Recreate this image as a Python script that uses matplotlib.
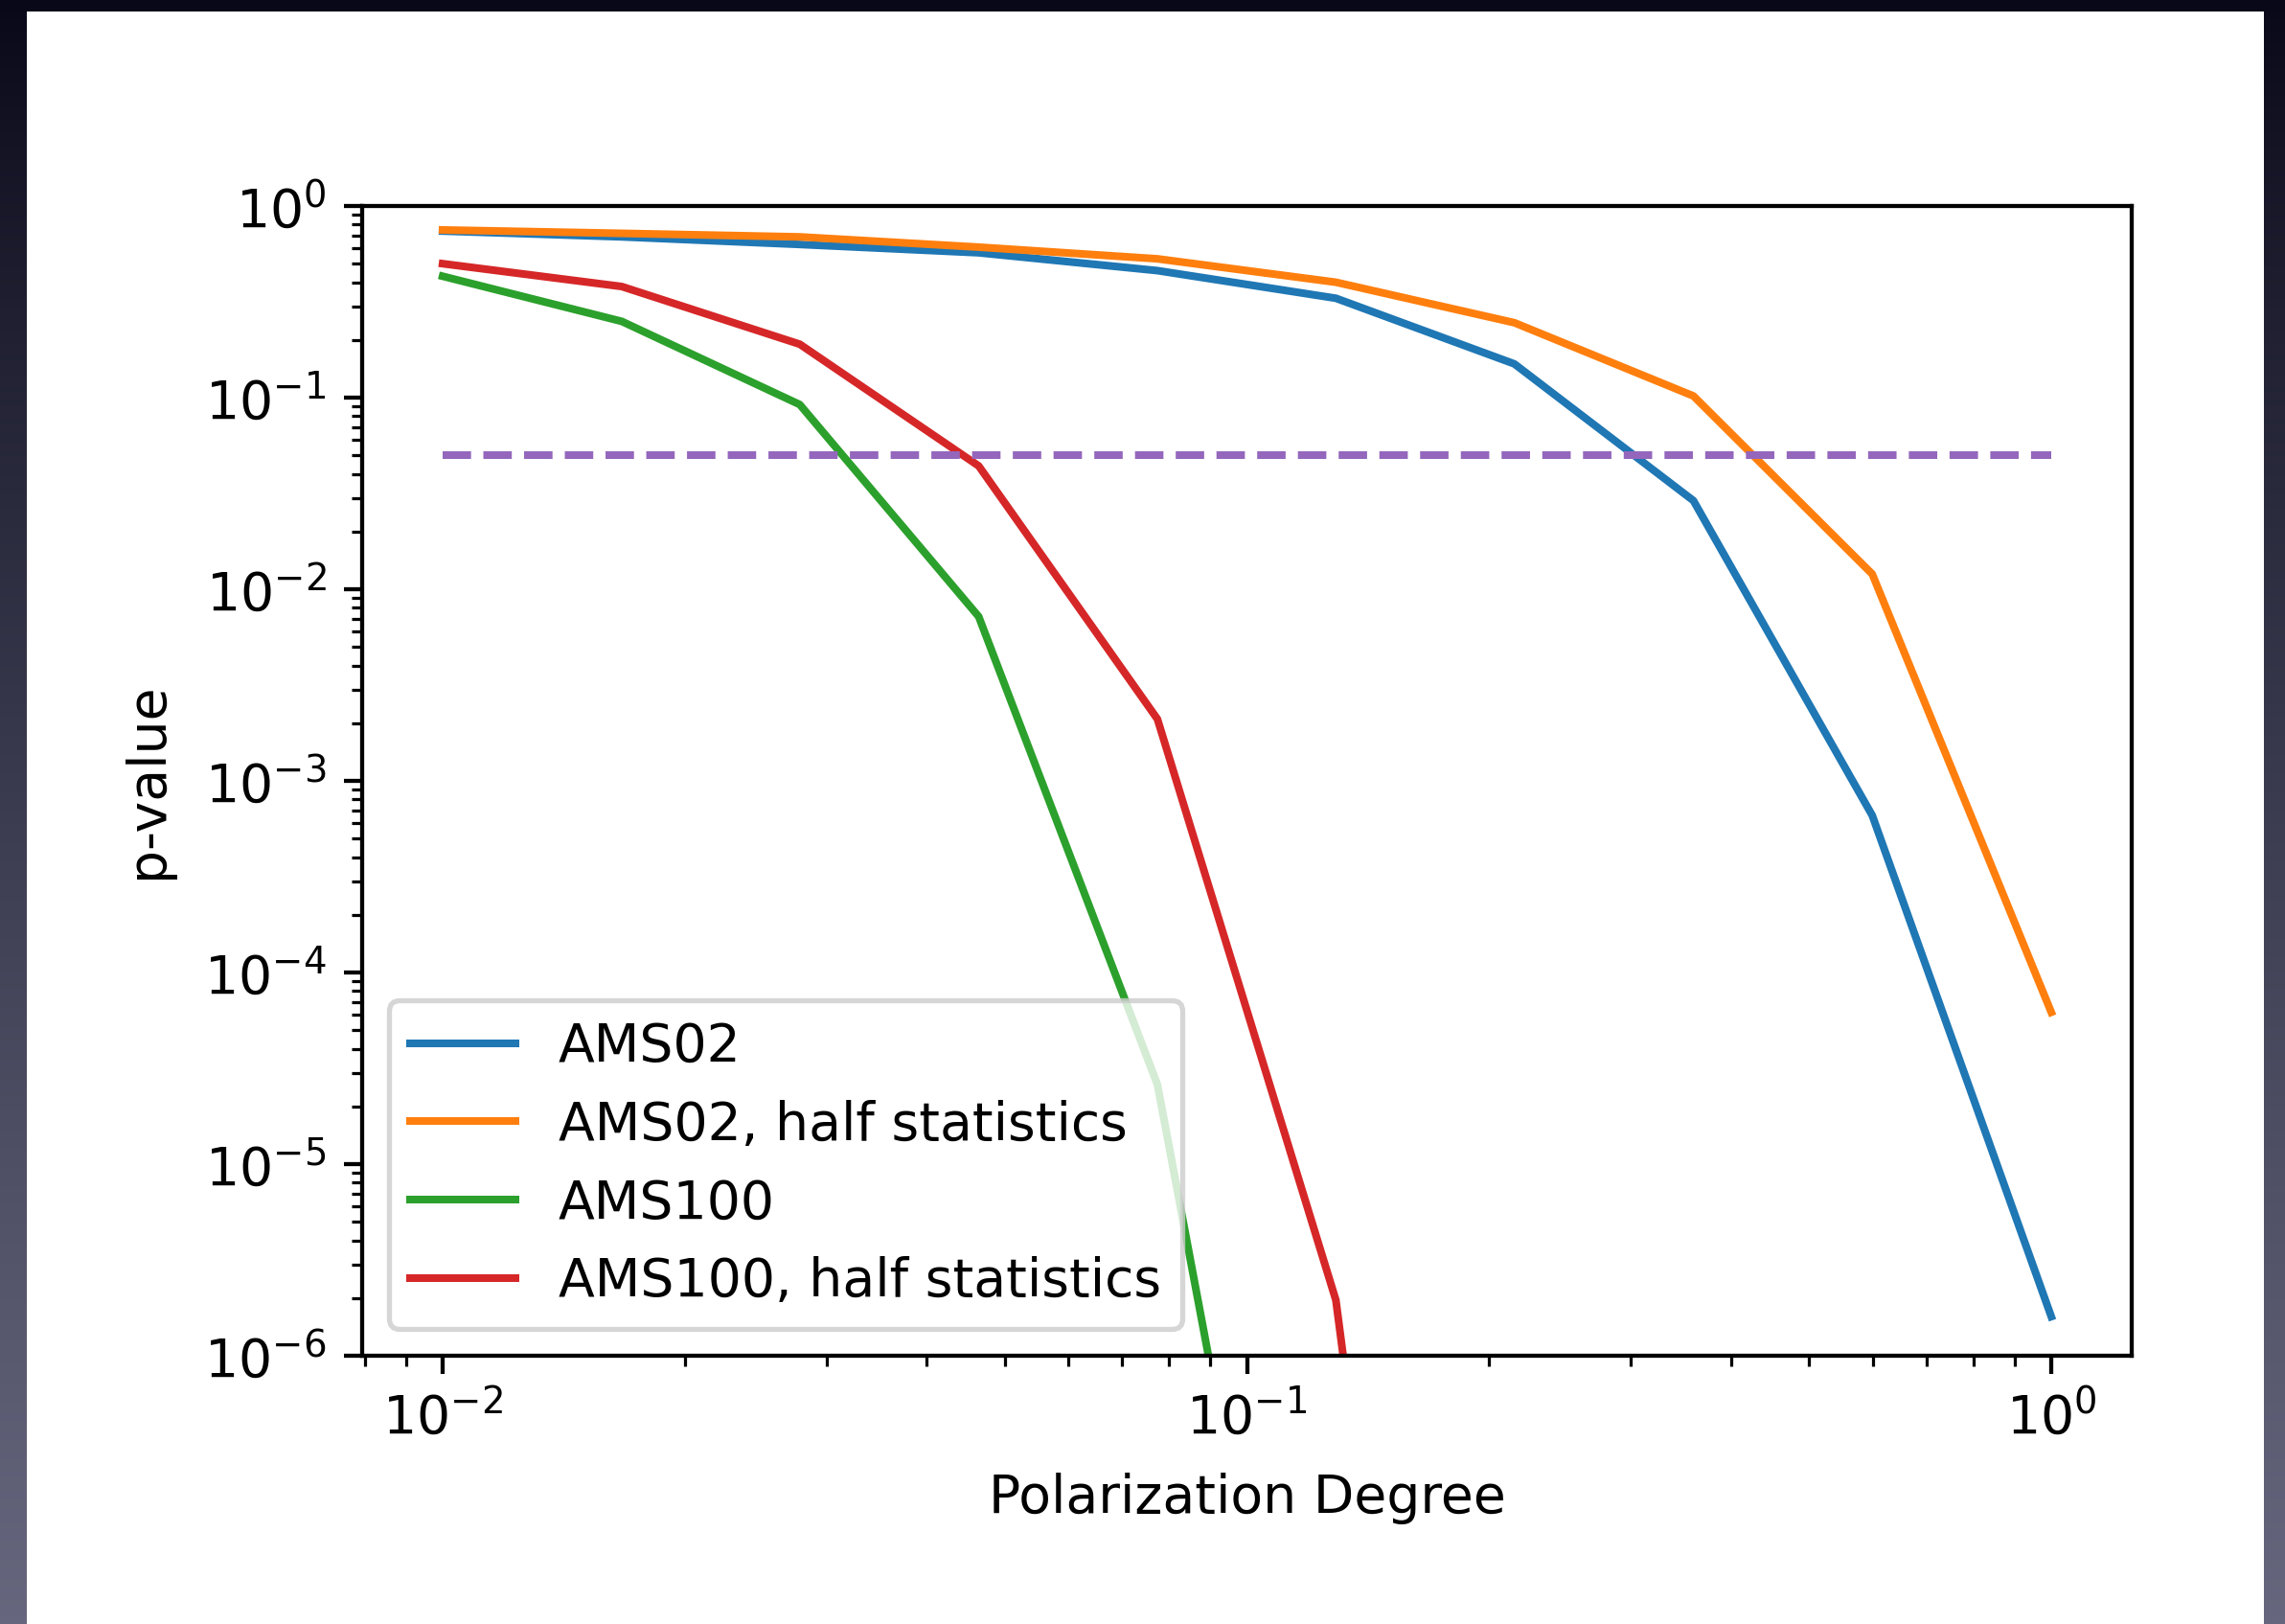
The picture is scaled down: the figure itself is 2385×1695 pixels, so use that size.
import matplotlib
matplotlib.use('Agg')
import matplotlib.pyplot as plt
import numpy as np
from matplotlib.patches import Rectangle

# ---- data ----
polarization = [0.01, 0.0167, 0.0278, 0.0464, 0.0774, 0.129, 0.215, 0.359, 0.599, 1.0]
ams02 = [0.74, 0.69, 0.63, 0.57, 0.46, 0.33, 0.15, 0.029, 6.6e-4, 1.6e-6]
ams02_half = [0.75, 0.72, 0.69, 0.61, 0.53, 0.40, 0.246, 0.102, 0.012, 6.2e-5]
ams100 = [0.43, 0.25, 0.092, 0.0072, 2.6e-5, 2.9e-10, 1e-16, 1e-20, 1e-24, 1e-28]
ams100_half = [0.50, 0.38, 0.19, 0.044, 2.1e-3, 1.95e-6, 1.5e-13, 1e-18, 1e-22, 1e-26]
threshold = [0.05, 0.05]
threshold_x = [0.01, 1.0]
series_labels = ['AMS02', 'AMS02, half statistics', 'AMS100', 'AMS100, half statistics']

plt.rcParams['font.size'] = 10.35

DPI = 385
W, H = 2385, 1695
fig = plt.figure(figsize=(W / DPI, H / DPI), dpi=DPI)

# slide-like background with white card
bg = fig.add_axes([0, 0, 1, 1], zorder=-10)
g = np.linspace(0, 1, 256)[:, None, None] ** 0.85
top = np.array([8, 8, 24]) / 255.0
bot = np.array([102, 102, 126]) / 255.0
img = top + (bot - top) * g
bg.imshow(img, aspect='auto', extent=[0, 1, 0, 1], origin='upper')
bg.add_patch(Rectangle((28 / W, 0), (2363 - 28) / W, (H - 12) / H,
                       facecolor='white', edgecolor='none', transform=bg.transAxes))
bg.set_xlim(0, 1)
bg.set_ylim(0, 1)
bg.axis('off')

ax = fig.add_axes([378 / W, (H - 1415) / H, 1847 / W, 1200 / H])
ax.set_facecolor('white')
ax.loglog(polarization, ams02, label=series_labels[0], color='tab:blue')
ax.loglog(polarization, ams02_half, label=series_labels[1], color='tab:orange')
ax.loglog(polarization, ams100, label=series_labels[2], color='tab:green')
ax.loglog(polarization, ams100_half, label=series_labels[3], color='tab:red')
ax.loglog(threshold_x, threshold, linestyle='--', color='tab:purple')

ax.set_xlim(10 ** -2.1, 10 ** 0.1)
ax.set_ylim(1e-6, 1)
ax.set_xlabel('Polarization Degree', labelpad=5.4)
ax.set_ylabel('p-value', labelpad=6)
ax.legend(loc='lower left')

fig.savefig('out.png', dpi=DPI)
